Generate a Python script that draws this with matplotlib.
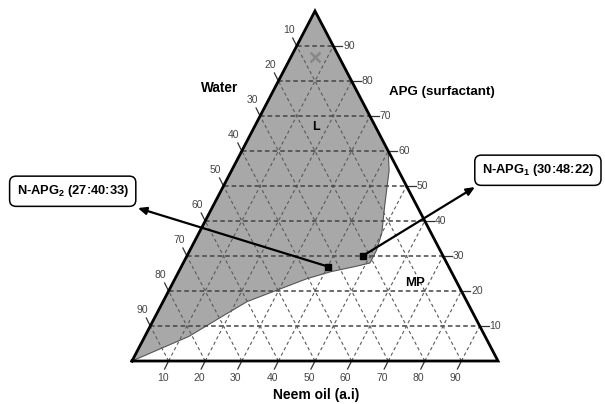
import numpy as np
import matplotlib
matplotlib.use("Agg")
import matplotlib.pyplot as plt
from matplotlib.patches import Polygon

plt.rcParams['font.family'] = ['Liberation Sans', 'DejaVu Sans']
plt.rcParams['mathtext.fontset'] = 'custom'
plt.rcParams['mathtext.rm'] = 'Liberation Sans'
plt.rcParams['mathtext.bf'] = 'Liberation Sans:bold'

# ---- data (percent): APG (surfactant), Neem oil (a.i) ; Water = 100 - APG - Neem
grid_levels = [10, 20, 30, 40, 50, 60, 70, 80, 90]
tick_labels = ["10", "20", "30", "40", "50", "60", "70", "80", "90"]

# boundary of the L (single-phase) region, listed as (APG, Neem)
boundary_apg = [0, 7, 12.5, 17, 20.5, 23.5, 25.5, 27, 28, 31.5, 36.5, 44, 54.5, 60, 100, 0]
boundary_neem = [0, 12, 18, 23, 30, 36, 41.5, 47.5, 51, 51, 50, 47, 43, 40, 0, 0]

# formulations (APG, Neem, Water)
points_names = ["N-APG$_\\mathbf{1}$ (30:48:22)", "N-APG$_\\mathbf{2}$ (27:40:33)"]
points_apg = [30, 27]
points_neem = [48, 40]

cross_apg = [87]
cross_neem = [6.5]


def tern(apg, neem):
    a = np.asarray(apg, dtype=float) / 100.0
    n = np.asarray(neem, dtype=float) / 100.0
    return n + a / 2.0, a


W, H = 605, 404
fig = plt.figure(figsize=(W / 100, H / 100), dpi=100)
ax = fig.add_axes([132 / W, (H - 361) / H, 366 / W, 350 / H])
ax.set_xlim(0, 1)
ax.set_ylim(0, 1)
ax.axis('off')

# gray region
bx, by = tern(boundary_apg, boundary_neem)
ax.add_patch(Polygon(np.column_stack([bx, by]), closed=True, facecolor='#a8a8a8',
                     edgecolor='#555555', lw=0.8, zorder=1))

# grid lines
for lv in grid_levels:
    # constant APG (horizontal)
    x0, y0 = tern(lv, 0)
    x1, y1 = tern(lv, 100 - lv)
    ax.plot([x0, x1], [y0, y1], color='#444444', lw=1.1, ls=(0, (3, 2)), zorder=2)
    # constant Neem (parallel to left edge)
    x0, y0 = tern(0, lv)
    x1, y1 = tern(100 - lv, lv)
    ax.plot([x0, x1], [y0, y1], color='#5a5a5a', lw=0.8, ls=(0, (3, 2.5)), zorder=2)
    # constant Water (parallel to right edge)
    x0, y0 = tern(0, 100 - lv)
    x1, y1 = tern(100 - lv, 0)
    ax.plot([x0, x1], [y0, y1], color='#5a5a5a', lw=0.8, ls=(0, (3, 2.5)), zorder=2)

# triangle outline
tx, ty = tern([0, 0, 100, 0], [0, 100, 0, 0])
ax.plot(tx, ty, color='black', lw=2.0, zorder=4, solid_joinstyle='miter', clip_on=False)

# ticks and tick labels
sx = 1 / 366.0
sy = 1 / 350.0
for lv, lab in zip(grid_levels, tick_labels):
    # bottom (Neem oil)
    x, y = tern(0, lv)
    ax.plot([x, x - 4 * sx], [y, y - 8 * sy], color='#333333', lw=0.9, clip_on=False)
    ax.text(x - 6 * sx, y - 17 * sy, lab, fontsize=7.5, color='#444444', ha='center', va='center')
    # right (APG)
    x, y = tern(lv, 100 - lv)
    ax.plot([x, x + 9 * sx], [y, y], color='#333333', lw=0.9, clip_on=False)
    ax.text(x + 10 * sx, y, lab, fontsize=7.5, color='#444444', ha='left', va='center')
    # left (Water)
    x, y = tern(100 - lv, 0)
    ax.plot([x, x - 4 * sx], [y, y + 8 * sy], color='#333333', lw=0.9, clip_on=False)
    ax.text(x - 8 * sx, y + 16 * sy, lab, fontsize=7.5, color='#444444', ha='center', va='center')

# cross marker
cx, cy = tern(cross_apg, cross_neem)
ax.plot(cx, cy, marker='x', color='#888888', ms=7, mew=1.8, ls='none', zorder=5)

# formulation points
px, py = tern(points_apg, points_neem)
ax.plot(px, py, marker='s', color='black', ms=4, ls='none', zorder=6)

# annotation boxes
box_centers = [(1.109, 0.545), (-0.162, 0.485)]
arrow_tips = [(0.937, 0.497), (0.016, 0.437)]
for name, (bxc, byc), tip, x, y in zip(points_names, box_centers, arrow_tips, px, py):
    ax.annotate('', xy=tip, xytext=(x, y),
                arrowprops=dict(arrowstyle='-|>,head_length=0.5,head_width=0.22', color='black',
                                lw=1.6, shrinkA=0, shrinkB=0), zorder=6, annotation_clip=False)
    ax.text(bxc, byc, name, fontsize=9.3, fontweight='bold', ha='center', va='center',
            bbox=dict(boxstyle='round,pad=0.55,rounding_size=0.5', fc='white', ec='black', lw=1.1),
            zorder=7)

# axis and region labels
ax.text(0.240, 0.78, 'Water', fontsize=9.8, fontweight='bold', ha='center', va='center')
ax.text(0.847, 0.769, 'APG (surfactant)', fontsize=9.6, fontweight='bold', ha='center', va='center')
ax.text(0.503, -0.097, 'Neem oil (a.i)', fontsize=10, fontweight='bold', ha='center', va='center')
ax.text(0.503, 0.669, 'L', fontsize=9, fontweight='bold', ha='center', va='center')
ax.text(0.773, 0.223, 'MP', fontsize=9.5, fontweight='bold', ha='center', va='center')

fig.savefig('out.png', dpi=100)
